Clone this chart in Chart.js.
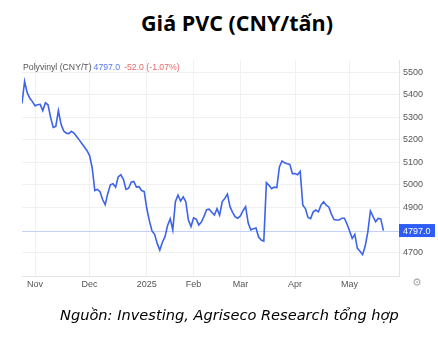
<!DOCTYPE html>
<html>
<head>
<meta charset="utf-8">
<script src="https://cdn.jsdelivr.net/npm/chart.js@4/dist/chart.umd.min.js"></script>
<style>
  html, body { margin: 0; padding: 0; background: #fff; }
  body { width: 438px; height: 356px; position: relative; overflow: hidden; }
  #title { position: absolute; left: 0; width: 474px; top: 8px; text-align: center;
    font-family: "Open Sans", sans-serif; font-weight: 700; font-size: 21.5px; color: #000; }
  #hdr { position: absolute; left: 23px; top: 62px; font-family: "Liberation Sans", Arial, sans-serif;
    font-size: 8.7px; color: #555; white-space: nowrap; }
  #hdr .b { color: #5a78ee; margin-left: 2px; }
  #hdr .r { color: #e36a6a; margin-left: 4px; }
  #cap { position: absolute; left: 60px; top: 306px; font-family: "DejaVu Sans", sans-serif;
    font-style: italic; font-size: 14.6px; color: #000; white-space: nowrap; }
  #gear { position: absolute; left: 412px; top: 276px; font-family: "DejaVu Sans", sans-serif;
    font-size: 11px; color: #aaa; }
  canvas { position: absolute; left: 0; top: 0; }
</style>
</head>
<body>
<div id="title">Giá PVC (CNY/tấn)</div>
<canvas id="c" width="438" height="356"></canvas>
<div id="hdr">Polyvinyl (CNY/T)<span class="b">4797.0</span><span class="r">-52.0 (-1.07%)</span></div>
<div id="gear">⚙</div>
<div id="cap">Nguồn: Investing, Agriseco Research tổng hợp</div>
<script>
// Daily PVC prices (trading-day index), late Oct 2024 -> late May 2025
const prices = [
  5362, 5460, 5410, 5385, 5370, 5352, 5356, 5358, 5330, 5365,
  5356, 5300, 5255, 5260, 5330, 5270, 5240, 5230, 5228, 5238,
  5230, 5215, 5200, 5184, 5168, 5152, 5130, 5075, 4975, 4980,
  4970, 4935, 4912, 4962, 5000, 5005, 4990, 5035, 5045, 5025,
  4980, 4985, 5012, 5015, 4990, 4992, 4975, 4970, 4895, 4840,
  4795, 4780, 4740, 4710, 4745, 4770, 4820, 4850, 4800, 4925,
  4955, 4928, 4947, 4925, 4844, 4815, 4853, 4848, 4822, 4835,
  4860, 4890, 4892, 4878, 4866, 4894, 4865, 4925, 4940, 4959,
  4903, 4878, 4858, 4852, 4862, 4885, 4903, 4830, 4800, 4805,
  4808, 4768, 4755, 4750, 5010, 4998, 4983, 4990, 4988, 5080,
  5106, 5098, 5094, 5091, 5050, 5050, 5045, 5060, 4910, 4895,
  4855, 4850, 4880, 4888, 4880, 4910, 4925, 4910, 4902, 4870,
  4846, 4844, 4844, 4852, 4852, 4826, 4795, 4762, 4780, 4718,
  4705, 4690, 4728, 4790, 4884, 4860, 4836, 4851, 4849, 4797
];
const monthLabels = ['Nov', 'Dec', '2025', 'Feb', 'Mar', 'Apr', 'May'];
const monthIndex = [5, 26, 48, 66, 84, 105, 126];
const yTicks = [4700, 4900, 5000, 5100, 5200, 5300, 5400, 5500];
const lastPrice = prices[prices.length - 1];

const lastLine = {
  id: 'lastLine',
  beforeDatasetsDraw(chart) {
    const { ctx, chartArea: a, scales: { y } } = chart;
    const py = Math.round(y.getPixelForValue(lastPrice)) + 0.5;
    ctx.save();
    ctx.strokeStyle = '#c3d0f8';
    ctx.lineWidth = 1;
    ctx.beginPath();
    ctx.moveTo(a.left, py);
    ctx.lineTo(a.right, py);
    ctx.stroke();
    ctx.restore();
  },
  afterDraw(chart) {
    const { ctx, chartArea: a, scales: { y } } = chart;
    const py = y.getPixelForValue(lastPrice);
    ctx.save();
    ctx.fillStyle = '#2e5cf6';
    ctx.fillRect(a.right, py - 6.5, 36, 13);
    ctx.fillStyle = '#fff';
    ctx.font = '9px "Liberation Sans", Arial, sans-serif';
    ctx.textBaseline = 'middle';
    ctx.textAlign = 'left';
    ctx.fillText(lastPrice.toFixed(1), a.right + 4, py + 0.5);
    ctx.restore();
  }
};

new Chart(document.getElementById('c'), {
  type: 'line',
  data: {
    datasets: [{
      data: prices.map((v, i) => ({ x: i, y: v })),
      borderColor: '#3d63ea',
      borderWidth: 1.6,
      pointRadius: 0,
      tension: 0,
      fill: false
    }]
  },
  options: {
    responsive: false,
    animation: false,
    events: [],
    layout: { padding: { left: 22, top: 60, right: 0, bottom: 60 } },
    plugins: { legend: { display: false }, tooltip: { enabled: false } },
    scales: {
      x: {
        type: 'linear',
        min: 0,
        max: 145,
        afterBuildTicks(s) { s.ticks = monthIndex.map(v => ({ value: v })); },
        afterFit(s) { s.height = 20; },
        ticks: {
          autoSkip: false,
          maxRotation: 0,
          padding: 3,
          color: '#555',
          font: { family: '"Liberation Sans", Arial, sans-serif', size: 9 },
          callback: (v) => monthLabels[monthIndex.indexOf(v)]
        },
        grid: { color: '#f0f1f4', drawTicks: false },
        border: { color: '#e4e4e4' }
      },
      y: {
        position: 'right',
        min: 4595,
        max: 5555,
        afterBuildTicks(s) { s.ticks = yTicks.map(v => ({ value: v })); },
        afterFit(s) { s.width = 39; },
        ticks: {
          padding: 4,
          color: '#555',
          font: { family: '"Liberation Sans", Arial, sans-serif', size: 9 },
          callback: (v) => String(v)
        },
        grid: { color: '#f0f0f0', drawTicks: false },
        border: { color: '#e4e4e4' }
      }
    }
  },
  plugins: [lastLine]
});
</script>
</body>
</html>
